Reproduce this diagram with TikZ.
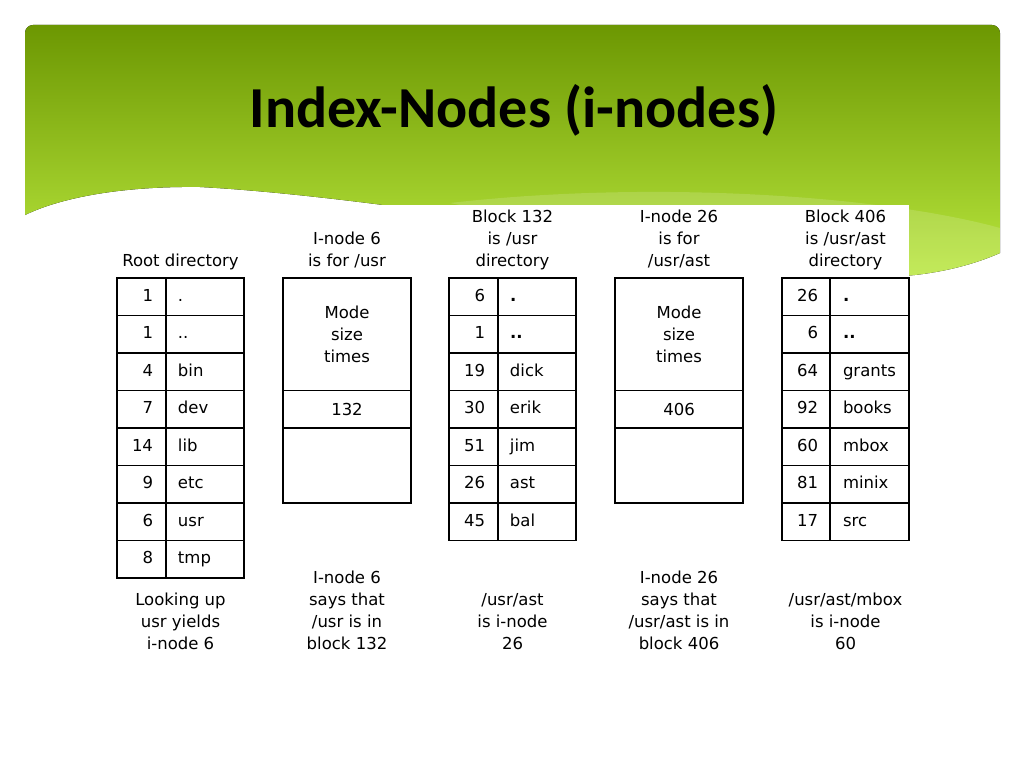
\documentclass[tikz,border=0pt]{standalone}
\usepackage{xcolor}
\usepackage{fontspec}
\usepackage{tikz}
\usetikzlibrary{positioning}
\newfontfamily\titlefont{Carlito}
\newfontfamily\figfont{DejaVu Sans}
\definecolor{bannertop}{RGB}{108,151,2}
\definecolor{bannerbot}{RGB}{188,234,64}
\newcommand{\ent}[2]{\makebox[36pt][r]{#1}\hspace{25pt}\makebox[66pt][l]{#2}}

\begin{document}
\begin{tikzpicture}[x=1pt,y=-1pt,
		dirrow/.style={draw, line width=1.4pt, minimum width=127pt, minimum height=37.5pt,
			inner sep=0pt, text height=12pt, text depth=3pt},
		inodebox/.style={draw, line width=1.4pt, minimum width=128pt, inner sep=0pt, align=center},
		caption/.style={anchor=north, inner sep=0pt, align=center}]
	\tikzstyle{every node}=[outer sep=0pt, font=\figfont\fontsize{16.5}{22}\selectfont]
	\useasboundingbox[fill=white] (0,0) rectangle (1024,768);
	% green banner
	\fill[top color=bannertop, bottom color=bannerbot] (25,215) [rounded corners=8pt] -- (25,25) -- (1000,25) -- (1000,140)
		[sharp corners] -- (1000,253) .. controls (950,275) and (880,285) .. (800,270)
		.. controls (600,235) and (350,195) .. (200,187) .. controls (120,186) and (60,198) .. (25,215) -- cycle;
	\fill[white, opacity=0.15] (450,203) .. controls (650,180) and (880,195) .. (1000,228) -- (1000,253)
		.. controls (950,275) and (880,285) .. (800,270) .. controls (650,244) .. (450,203);
	\node[font=\titlefont\bfseries\fontsize{58}{62}\selectfont, anchor=base] (title) at (514,127) {Index-Nodes (i-nodes)};
	\fill[white] (300,205) rectangle (909,680);
	% root directory
	\node[caption] (hroot) at (180.5,254) {Root directory};
	\node[dirrow, anchor=north west] (rt1) at (117,278) {\ent{1}{.}};
	\node[dirrow, below=0pt of rt1] (rt2) {\ent{1}{..}};
	\node[dirrow, below=0pt of rt2] (rt3) {\ent{4}{bin}};
	\node[dirrow, below=0pt of rt3] (rt4) {\ent{7}{dev}};
	\node[dirrow, below=0pt of rt4] (rt5) {\ent{14}{lib}};
	\node[dirrow, below=0pt of rt5] (rt6) {\ent{9}{etc}};
	\node[dirrow, below=0pt of rt6] (rt7) {\ent{6}{usr}};
	\node[dirrow, below=0pt of rt7] (rt8) {\ent{8}{tmp}};
	\draw[line width=1.4pt] ([xshift=49pt]rt1.north west) -- ([xshift=49pt]rt8.south west);
	\node[caption] (froot) at (180.5,593) {Looking up\\usr yields\\i-node 6};
	% i-node 6
	\node[caption] (hiu) at (347,232) {I-node 6\\is for /usr};
	\node[inodebox, anchor=north west, minimum height=112.5pt] (iu) at (283,278) {Mode\\size\\times};
	\node[inodebox, minimum height=37.5pt, below=0pt of iu] (iuaddr) {132};
	\node[inodebox, minimum height=75pt, below=0pt of iuaddr] (iurest) {};
	\node[caption] (fiu) at (347,571) {I-node 6\\says that\\/usr is in\\block 132};
	% block 132
	\node[caption] (hbu) at (512.5,210) {Block 132\\is /usr\\directory};
	\node[dirrow, anchor=north west] (bu1) at (449,278) {\ent{6}{\textbf{.}}};
	\node[dirrow, below=0pt of bu1] (bu2) {\ent{1}{\textbf{..}}};
	\node[dirrow, below=0pt of bu2] (bu3) {\ent{19}{dick}};
	\node[dirrow, below=0pt of bu3] (bu4) {\ent{30}{erik}};
	\node[dirrow, below=0pt of bu4] (bu5) {\ent{51}{jim}};
	\node[dirrow, below=0pt of bu5] (bu6) {\ent{26}{ast}};
	\node[dirrow, below=0pt of bu6] (bu7) {\ent{45}{bal}};
	\draw[line width=1.4pt] ([xshift=49pt]bu1.north west) -- ([xshift=49pt]bu7.south west);
	\node[caption] (fbu) at (512.5,593) {/usr/ast\\is i-node\\26};
	% i-node 26
	\node[caption] (hia) at (679,210) {I-node 26\\is for\\/usr/ast};
	\node[inodebox, anchor=north west, minimum height=112.5pt] (ia) at (615,278) {Mode\\size\\times};
	\node[inodebox, minimum height=37.5pt, below=0pt of ia] (iaaddr) {406};
	\node[inodebox, minimum height=75pt, below=0pt of iaaddr] (iarest) {};
	\node[caption] (fia) at (679,571) {I-node 26\\says that\\/usr/ast is in\\block 406};
	% block 406
	\node[caption] (hba) at (845.5,210) {Block 406\\is /usr/ast\\directory};
	\node[dirrow, anchor=north west] (ba1) at (782,278) {\ent{26}{\textbf{.}}};
	\node[dirrow, below=0pt of ba1] (ba2) {\ent{6}{\textbf{..}}};
	\node[dirrow, below=0pt of ba2] (ba3) {\ent{64}{grants}};
	\node[dirrow, below=0pt of ba3] (ba4) {\ent{92}{books}};
	\node[dirrow, below=0pt of ba4] (ba5) {\ent{60}{mbox}};
	\node[dirrow, below=0pt of ba5] (ba6) {\ent{81}{minix}};
	\node[dirrow, below=0pt of ba6] (ba7) {\ent{17}{src}};
	\draw[line width=1.4pt] ([xshift=48pt]ba1.north west) -- ([xshift=48pt]ba7.south west);
	\node[caption] (fba) at (845.5,593) {/usr/ast/mbox\\is i-node\\60};
\end{tikzpicture}
\end{document}
